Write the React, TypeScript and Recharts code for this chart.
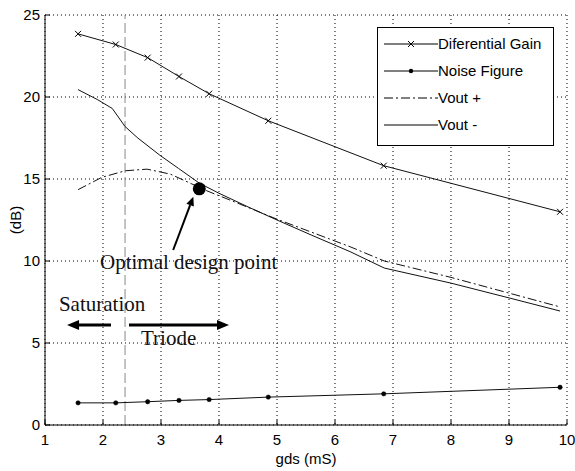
import React from 'react';
import {
  LineChart,
  Line,
  XAxis,
  YAxis,
  CartesianGrid,
  ReferenceLine,
  ReferenceDot,
  Legend,
} from 'recharts';

// ---- data ----
const seriesNames = ['Diferential Gain', 'Noise Figure', 'Vout +', 'Vout -'];
const markerX = [1.57, 2.22, 2.77, 3.31, 3.83, 4.85, 6.84, 9.88];
const gainY = [23.85, 23.2, 22.4, 21.25, 20.2, 18.55, 15.81, 13.0];
const noiseY = [1.35, 1.35, 1.42, 1.5, 1.55, 1.7, 1.9, 2.3];
const voutPlusX = [1.57, 1.98, 2.38, 2.76, 3.16, 3.5, 3.79, 4.2, 5.0, 6.26, 6.85, 8.0, 9.88];
const voutPlusY = [14.35, 15.1, 15.5, 15.6, 15.3, 14.75, 14.28, 13.7, 12.55, 10.87, 10.0, 9.0, 7.2];
const voutMinusX = [1.57, 1.9, 2.16, 2.24, 2.38, 2.6, 2.98, 3.3, 3.66, 4.0, 4.5, 5.0, 5.6, 6.26, 6.85, 7.5, 8.0, 9.0, 9.88];
const voutMinusY = [20.45, 19.85, 19.3, 18.9, 18.2, 17.5, 16.45, 15.65, 14.75, 14.13, 13.3, 12.5, 11.57, 10.57, 9.57, 9.05, 8.65, 7.75, 6.95];
const xTicks = [1, 2, 3, 4, 5, 6, 7, 8, 9, 10];
const yTicks = [0, 5, 10, 15, 20, 25];
const xLabel = 'gds (mS)';
const yLabel = '(dB)';
const boundaryX = 2.38;
const designPoint = { x: 3.66, y: 14.4 };
const designText = { x: 1.948, y: 9.5, text: 'Optimal design point' };
const satText = { x: 1.24, y: 6.95, text: 'Saturation' };
const triText = { x: 2.655, y: 4.88, text: 'Triode' };
const designArrow = [{ x: 3.21, y: 10.67 }, { x: 3.557, y: 13.92 }];
const satArrow = [{ x: 2.138, y: 6.1 }, { x: 1.38, y: 6.1 }];
const triArrow = [{ x: 2.448, y: 6.1 }, { x: 4.172, y: 6.1 }];

const zip = (xs: number[], ys: number[]) => xs.map((x, i) => ({ x, y: ys[i] }));
const gainData = zip(markerX, gainY);
const noiseData = zip(markerX, noiseY);
const voutPlusData = zip(voutPlusX, voutPlusY);
const voutMinusData = zip(voutMinusX, voutMinusY);

const SANS = '"Liberation Sans", Arial, sans-serif';
const SERIF = '"Liberation Serif", "Times New Roman", serif';
const DASHDOT = '9 3 2 3';

const XMark = (props: any) => {
  const { cx, cy, index } = props;
  if (cx == null || cy == null) return <g key={`xm-${index}`} />;
  const s = 3;
  return (
    <path
      key={`xm-${index}`}
      d={`M${cx - s},${cy - s}L${cx + s},${cy + s}M${cx - s},${cy + s}L${cx + s},${cy - s}`}
      stroke="#000"
      strokeWidth={1}
      fill="none"
    />
  );
};

const makeArrow = (width: number, headLen: number, headHalf: number) => (p: any) => {
  const { x1, y1, x2, y2 } = p;
  const dx = x2 - x1;
  const dy = y2 - y1;
  const len = Math.hypot(dx, dy) || 1;
  const ux = dx / len;
  const uy = dy / len;
  const bx = x2 - ux * headLen;
  const by = y2 - uy * headLen;
  const pts = `${x2},${y2} ${bx - uy * headHalf},${by + ux * headHalf} ${bx + uy * headHalf},${by - ux * headHalf}`;
  return (
    <g>
      <line x1={x1} y1={y1} x2={bx} y2={by} stroke="#000" strokeWidth={width} />
      <polygon points={pts} fill="#000" />
    </g>
  );
};

const makeText = (text: string) => (p: any) => (
  <text x={p.cx} y={p.cy} fill="#111" fontFamily={SERIF} fontSize={21} textAnchor="start">
    {text}
  </text>
);

const LegendBox = () => {
  const rows = [
    { name: seriesNames[0], dash: undefined, mark: 'x' },
    { name: seriesNames[1], dash: undefined, mark: 'dot' },
    { name: seriesNames[2], dash: DASHDOT, mark: '' },
    { name: seriesNames[3], dash: undefined, mark: '' },
  ];
  return (
    <div
      style={{
        width: 177,
        height: 119,
        border: '1px solid #000',
        background: '#fff',
        boxSizing: 'border-box',
        position: 'relative',
        fontFamily: SANS,
        fontSize: 15,
        color: '#000',
      }}
    >
      {rows.map((r, i) => (
        <div
          key={i}
          style={{
            position: 'absolute',
            left: 6,
            top: 16 + i * 27 - 10,
            height: 20,
            display: 'flex',
            alignItems: 'center',
            whiteSpace: 'nowrap',
          }}
        >
          <svg width={54} height={20} style={{ display: 'block' }}>
            <line x1={0} y1={10} x2={54} y2={10} stroke="#000" strokeWidth={1} strokeDasharray={r.dash} />
            {r.mark === 'x' && <path d="M24,7L30,13M24,13L30,7" stroke="#000" strokeWidth={1} />}
            {r.mark === 'dot' && <circle cx={27} cy={10} r={2.2} fill="#000" />}
          </svg>
          <span style={{ lineHeight: '20px' }}>{r.name}</span>
        </div>
      ))}
    </div>
  );
};

const YLabel = () => (
  <text
    x={15}
    y={220}
    transform="rotate(-90 15 220)"
    textAnchor="middle"
    dominantBaseline="central"
    fill="#000"
    fontFamily={SANS}
    fontSize={15}
  >
    {yLabel}
  </text>
);

const tickStyle = { fill: '#000', fontSize: 15, fontFamily: SANS };
const empty = () => '';

export default function App() {
  return (
    <div style={{ position: 'absolute', left: 0, top: 0, width: 575, height: 471, background: '#fff' }}>
      <LineChart width={575} height={471} margin={{ top: 15, right: 8, bottom: 0, left: 0 }}>
        <CartesianGrid stroke="#000" strokeDasharray="1 3" />
        <XAxis
          xAxisId={0}
          type="number"
          dataKey="x"
          domain={[1, 10]}
          ticks={xTicks}
          interval={0}
          allowDataOverflow
          height={46}
          tickSize={-5}
          tickMargin={14}
          axisLine={{ stroke: '#000' }}
          tickLine={{ stroke: '#000' }}
          tick={tickStyle}
          label={{ value: xLabel, position: 'insideBottom', offset: 7, fill: '#000', fontSize: 15, fontFamily: SANS }}
        />
        <XAxis
          xAxisId="top"
          orientation="top"
          type="number"
          domain={[1, 10]}
          ticks={xTicks}
          interval={0}
          allowDataOverflow
          height={0}
          tickSize={-5}
          axisLine={{ stroke: '#000' }}
          tickLine={{ stroke: '#000' }}
          tickFormatter={empty}
        />
        <YAxis
          yAxisId={0}
          type="number"
          domain={[0, 25]}
          ticks={yTicks}
          interval={0}
          allowDataOverflow
          width={45}
          tickSize={-5}
          tickMargin={10}
          axisLine={{ stroke: '#000' }}
          tickLine={{ stroke: '#000' }}
          tick={tickStyle}
          label={<YLabel />}
        />
        <YAxis
          yAxisId="right"
          orientation="right"
          type="number"
          domain={[0, 25]}
          ticks={yTicks}
          interval={0}
          allowDataOverflow
          width={0}
          tickSize={-5}
          axisLine={{ stroke: '#000' }}
          tickLine={{ stroke: '#000' }}
          tickFormatter={empty}
        />
        <ReferenceLine x={boundaryX} stroke="#888" strokeWidth={1} strokeDasharray="10 4" />
        <Line
          data={voutPlusData}
          dataKey="y"
          name={seriesNames[2]}
          type="linear"
          stroke="#111"
          strokeWidth={1}
          strokeDasharray={DASHDOT}
          dot={false}
          isAnimationActive={false}
        />
        <Line
          data={voutMinusData}
          dataKey="y"
          name={seriesNames[3]}
          type="linear"
          stroke="#111"
          strokeWidth={1}
          dot={false}
          isAnimationActive={false}
        />
        <Line
          data={gainData}
          dataKey="y"
          name={seriesNames[0]}
          type="linear"
          stroke="#111"
          strokeWidth={1}
          dot={XMark}
          isAnimationActive={false}
        />
        <Line
          data={noiseData}
          dataKey="y"
          name={seriesNames[1]}
          type="linear"
          stroke="#111"
          strokeWidth={1}
          dot={{ r: 2.2, fill: '#000', stroke: '#000', strokeWidth: 0.5 }}
          isAnimationActive={false}
        />
        <ReferenceDot x={designPoint.x} y={designPoint.y} r={6.5} fill="#000" stroke="none" />
        <ReferenceLine segment={designArrow} shape={makeArrow(2, 9, 4)} />
        <ReferenceLine segment={satArrow} shape={makeArrow(3, 12, 5)} />
        <ReferenceLine segment={triArrow} shape={makeArrow(3, 12, 5)} />
        <ReferenceDot x={designText.x} y={designText.y} r={0} shape={makeText(designText.text)} />
        <ReferenceDot x={satText.x} y={satText.y} r={0} shape={makeText(satText.text)} />
        <ReferenceDot x={triText.x} y={triText.y} r={0} shape={makeText(triText.text)} />
        <Legend
          layout="horizontal"
          verticalAlign="middle"
          align="center"
          wrapperStyle={{ left: 377, top: 27, width: 177, height: 119 }}
          content={<LegendBox />}
        />
      </LineChart>
    </div>
  );
}
